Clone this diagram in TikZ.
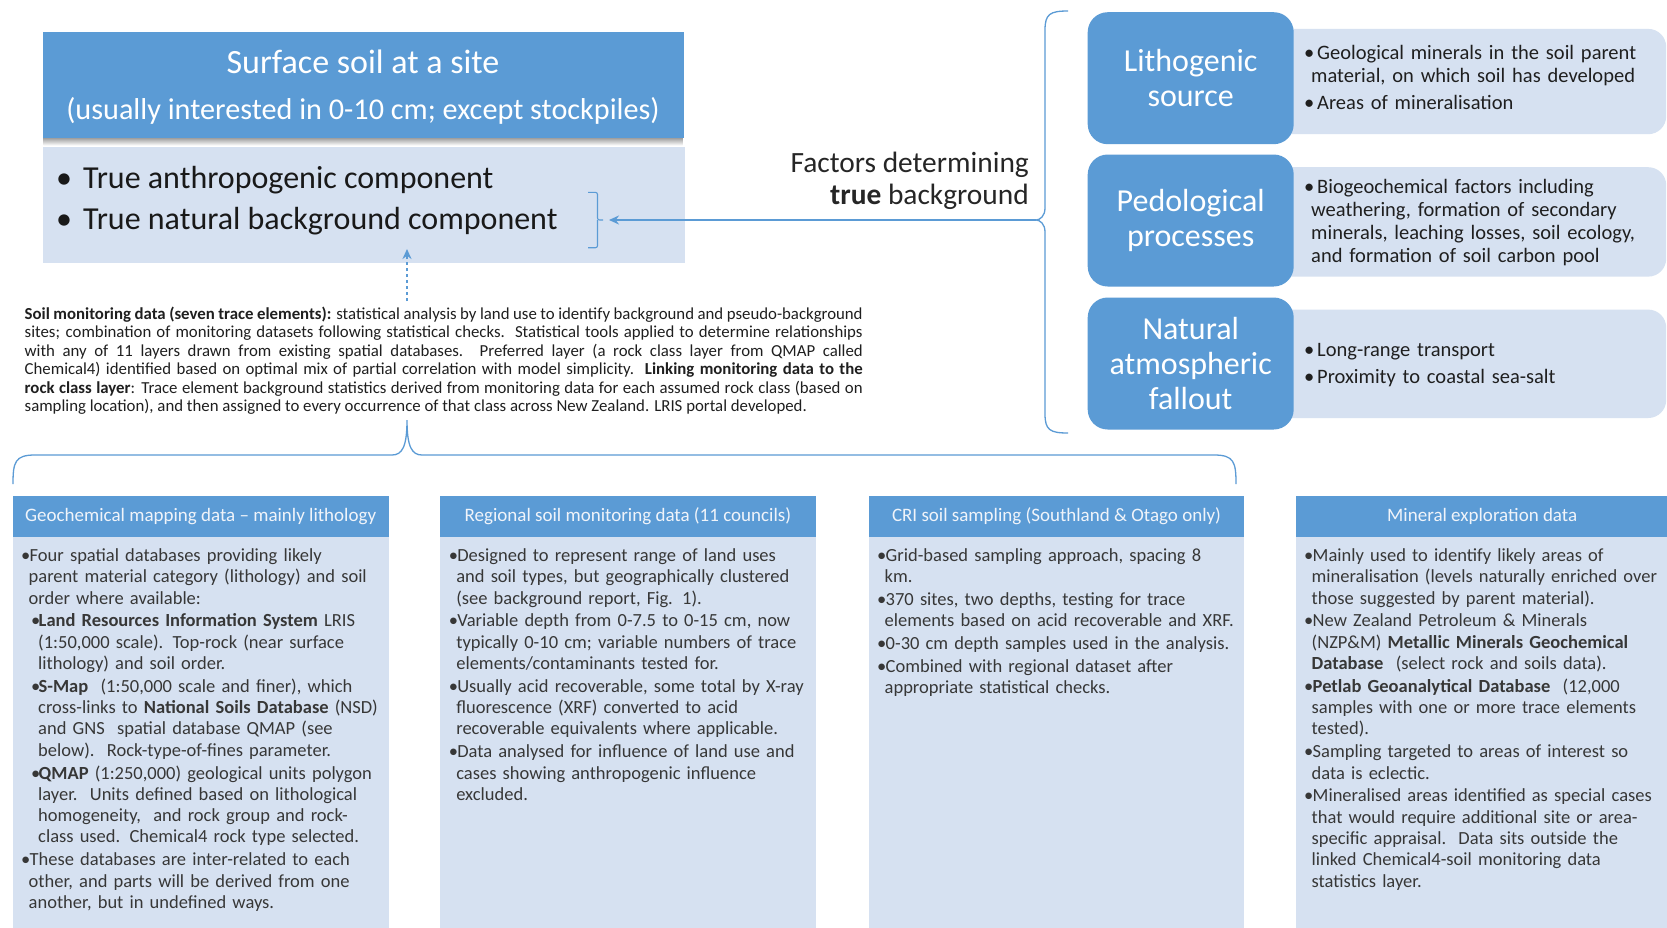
\documentclass[tikz,border=0pt]{standalone}
\usepackage{fontspec}
\setmainfont{Carlito}
\usetikzlibrary{arrows.meta}
\definecolor{dblue}{RGB}{91,155,213}
\definecolor{lblue}{RGB}{214,225,241}
\definecolor{bodytxt}{RGB}{55,55,55}
\definecolor{linecol}{RGB}{91,155,213}
\definecolor{hdtxt}{RGB}{240,244,250}
\newcommand\fs[2]{\fontsize{#1}{#2}\selectfont}
\newcommand\bi[1]{\par\leftskip=0pt\hangindent=7.5pt\hangafter=1\noindent\makebox[8.5pt][l]{\textbullet}#1\par}
\newcommand\sbi[1]{\par\leftskip=10pt\hangindent=7pt\hangafter=1\noindent\makebox[7.5pt][l]{\textbullet}#1\par}
\newcommand\rbi[1]{\par\hangindent=7pt\hangafter=1\noindent\makebox[13pt][l]{\textbullet}#1\par}
\newcommand\pl[1]{\makebox[838pt][s]{#1}}
\tikzset{
  bline/.style={draw=linecol, line width=1.3pt},
  colhead/.style={fill=dblue, text=hdtxt, inner sep=0pt, minimum width=375.5pt, minimum height=41.5pt, anchor=north west, font=\fs{19}{22}},
  colbody/.style={fill=lblue, inner sep=0pt, minimum width=375.5pt, minimum height=391pt, anchor=north west},
  coltxt/.style={anchor=north west, inner sep=0pt, text width=368pt, align=left, font=\fs{18.5}{21.3}\color{bodytxt}, execute at begin node={\setlength{\parskip}{1.5pt}}},
  darkbox/.style={fill=dblue, rounded corners=20pt, minimum width=206pt, minimum height=132pt, inner sep=0pt, text=white, align=center, font=\fs{32}{35}},
  lightbox/.style={fill=lblue, rounded corners=18pt, anchor=north west, minimum width=401pt, inner sep=0pt},
  rtxt/.style={anchor=north west, inner sep=0pt, text width=360pt, align=left, font=\fs{20.5}{23}\color{black!88}, execute at begin node={\setlength{\parskip}{4.5pt}}},
}
\begin{document}
\begin{tikzpicture}[x=1pt,y=-1pt]
\useasboundingbox (0,0) rectangle (1667,927);
\fill[white] (0,0) rectangle (1667,927);

% ---------- top-left soil box ----------
\node[fill=lblue, anchor=north west, minimum width=642pt, minimum height=116pt, inner sep=0pt] (soilbox) at (42.5,146.7) {};
\shade[top color=black!40, bottom color=white] (43.5,137.5) rectangle (682.5,145.5);
\node[fill=dblue, anchor=north west, minimum width=641pt, minimum height=106pt, inner sep=0pt] (topbox) at (42.5,32) {};
\node[text=white, font=\fs{34}{38}] (title) at (363,61.7) {Surface soil at a site};
\node[text=white, font=\fs{30.2}{34}] (subtitle) at (363,110.6) {(usually interested in 0-10 cm; except stockpiles)};
\node[anchor=north west, inner sep=0pt, align=left, font=\fs{32}{41.5}\color{black!90}] (comp) at (56,166)
  {\makebox[27pt][l]{\textbullet}True anthropogenic component\\\makebox[27pt][l]{\textbullet}True natural background component};

% small bracket
\coordinate (sbtop) at (588,192.4);
\coordinate (sbbot) at (588,247.7);
\coordinate (sbtip) at (603,220);
\coordinate (smalltip) at (609,220);
\draw[bline, line width=1.1pt, rounded corners=2pt] (sbtop) -- (597.5,192.4) -- (597.5,220) -- (sbtip);
\draw[bline, line width=1.1pt, rounded corners=2pt] (sbbot) -- (597.5,247.7) -- (597.5,220);

% factors text
\node[anchor=north east, inner sep=0pt, align=right, font=\fs{29.4}{32}\color{black!85}] (factors) at (1029,152)
  {Factors determining\\\textbf{true} background};

% big brace on the right
\coordinate (bigtip) at (1036,220);
\draw[bline] (1068,11) .. controls (1050,11) and (1045,14) .. (1045,30) -- (1045,208)
  .. controls (1045,216) and (1040,220) .. (bigtip)
  .. controls (1040,220) and (1045,224) .. (1045,232) -- (1045,414)
  .. controls (1045,430) and (1050,433) .. (1068,433);
\draw[bline, -{Stealth[length=10pt,width=9pt]}] (bigtip) -- (smalltip);

% ---------- right side factor boxes ----------
\node[lightbox, minimum height=105.3pt] (l1) at (1265,28.7) {};
\node[lightbox, minimum height=109.4pt] (l2) at (1265,167) {};
\node[lightbox, minimum height=108.4pt] (l3) at (1265,309.4) {};
\node[darkbox] (d1) at (1190.7,78.2) {Lithogenic\\source};
\node[darkbox] (d2) at (1190.7,220.5) {Pedological\\processes};
\node[darkbox] (d3) at (1190.7,363.5) {Natural\\atmospheric\\fallout};
\node[rtxt] (r1) at (1304,31.4) {\rbi{Geological minerals in the soil parent\newline material, on which soil has developed}\rbi{Areas of mineralisation}};
\node[rtxt] (r2) at (1304,165.6) {\rbi{Biogeochemical factors including\newline weathering, formation of secondary\newline minerals, leaching losses, soil ecology,\newline and formation of soil carbon pool}};
\node[rtxt] (r3) at (1304,328.4) {\rbi{Long-range transport}\rbi{Proximity to coastal sea-salt}};

% ---------- paragraph ----------
\node[anchor=north west, inner sep=0pt, align=left, font=\fs{16.8}{18.5}\color{black!88}] (para) at (24.5,306.6)
 {\pl{\textbf{Soil monitoring data (seven trace elements):} statistical analysis by land use to identify background and pseudo-background}\\
  \pl{sites; combination of monitoring datasets following statistical checks.\ \ Statistical tools applied to determine relationships}\\
  \pl{with any of 11 layers drawn from existing spatial databases. Preferred layer (a rock class layer from QMAP called}\\
  \pl{Chemical4) identified based on optimal mix of partial correlation with model simplicity.\ \ \textbf{Linking monitoring data to the}}\\
  \pl{\textbf{rock class layer}: Trace element background statistics derived from monitoring data for each assumed rock class (based on}\\
  sampling location), and then assigned to every occurrence of that class across New Zealand. LRIS portal developed.};

% dotted arrow up to soil box
\coordinate (dotstart) at (407,301);
\coordinate (dotend) at (407,249);
\draw[draw=linecol, line width=2.4pt, dash pattern=on 3pt off 3pt, -{Stealth[length=10pt,width=9pt]}] (dotstart) -- (dotend);

% bottom brace
\coordinate (btip) at (407,420);
\draw[bline] (13,484) .. controls (13,462) and (15,455) .. (35,455) -- (392,455)
  .. controls (402,455) and (407,447) .. (btip)
  .. controls (407,447) and (412,455) .. (422,455) -- (1214,455)
  .. controls (1234,455) and (1236,462) .. (1236,484);

% ---------- bottom columns ----------
\node[colbody] (b1) at (12.8,536.9) {};
\node[colbody] (b2) at (440,536.9) {};
\node[colbody] (b3) at (868.6,536.9) {};
\node[colbody, minimum width=372pt] (b4) at (1296,536.9) {};
\node[colhead] (h1) at (12.8,495.4) {Geochemical mapping data -- mainly lithology};
\node[colhead] (h2) at (440,495.4) {Regional soil monitoring data (11 councils)};
\node[colhead] (h3) at (868.6,495.4) {CRI soil sampling (Southland \& Otago only)};
\node[colhead, minimum width=372pt] (h4) at (1296,495.4) {Mineral exploration data};

\node[coltxt] (t1) at (21,538.5) {%
\bi{Four spatial databases providing likely\newline parent material category (lithology) and soil\newline order where available:}%
\sbi{\textbf{Land Resources Information System} LRIS\newline (1:50,000 scale). Top-rock (near surface\newline lithology) and soil order.}%
\sbi{\textbf{S-Map}\ \ (1:50,000 scale and finer), which\newline cross-links to \textbf{National Soils Database}\ (NSD)\newline and GNS\ \ spatial database QMAP (see\newline below).\ \ Rock-type-of-fines parameter.}%
\sbi{\textbf{QMAP} (1:250,000) geological units polygon\newline layer.\ \ Units defined based on lithological\newline homogeneity,\ \ and rock group and rock-\newline class used. Chemical4 rock type selected.}%
\bi{These databases are inter-related to each\newline other, and parts will be derived from one\newline another, but in undefined ways.}};

\node[coltxt] (t2) at (448.6,538.5) {%
\bi{Designed to represent range of land uses\newline and soil types, but geographically clustered\newline (see background report, Fig. 1).}%
\bi{Variable depth from 0-7.5 to 0-15 cm, now\newline typically 0-10 cm; variable numbers of trace\newline elements/contaminants tested for.}%
\bi{Usually acid recoverable, some total by X-ray\newline fluorescence (XRF) converted to acid\newline recoverable equivalents where applicable.}%
\bi{Data analysed for influence of land use and\newline cases showing anthropogenic influence\newline excluded.}};

\node[coltxt] (t3) at (877,538.5) {%
\bi{Grid-based sampling approach, spacing 8\newline km.}%
\bi{370 sites, two depths, testing for trace\newline elements based on acid recoverable and XRF.}%
\bi{0-30 cm depth samples used in the analysis.}%
\bi{Combined with regional dataset after\newline appropriate statistical checks.}};

\node[coltxt] (t4) at (1304,538.5) {%
\bi{Mainly used to identify likely areas of\newline mineralisation (levels naturally enriched over\newline those suggested by parent material).}%
\bi{New Zealand Petroleum \& Minerals\newline (NZP\&M) \textbf{Metallic Minerals Geochemical}\newline \textbf{Database}\ \ (select rock and soils data).}%
\bi{\textbf{Petlab Geoanalytical Database}\ \ (12,000\newline samples with one or more trace elements\newline tested).}%
\bi{Sampling targeted to areas of interest so\newline data is eclectic.}%
\bi{Mineralised areas identified as special cases\newline that would require additional site or area-\newline specific appraisal.\ \ Data sits outside the\newline linked Chemical4-soil monitoring data\newline statistics layer.}};
\end{tikzpicture}
\end{document}
